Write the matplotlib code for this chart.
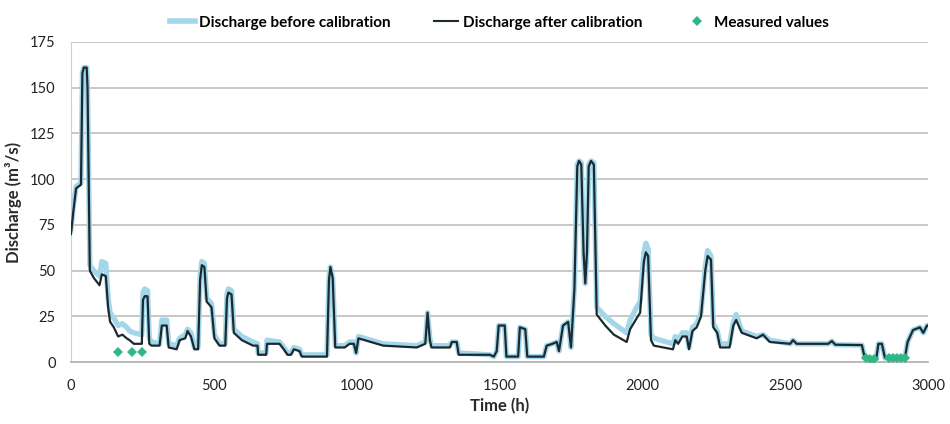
import matplotlib
matplotlib.use("Agg")
import matplotlib.pyplot as plt
from matplotlib.lines import Line2D

plt.rcParams['font.family'] = ['Lato', 'DejaVu Sans']

# hourly discharge breakpoints (h) with simulated values before / after calibration (m3/s)
hours = [0, 8, 18, 35, 40, 45, 55, 58, 66, 80, 100, 108, 122, 130, 137, 150, 165, 180,
         195, 205, 220, 248, 252, 258, 268, 274, 282, 310, 318, 335, 342, 370, 380, 400,
         408, 420, 432, 445, 452, 458, 467, 475, 492, 502, 520, 540, 546, 551, 562, 570,
         598, 637, 653, 655, 683, 686, 730, 745, 758, 770, 780, 800, 808, 896, 903, 908,
         916, 925, 958, 975, 990, 998, 1006, 1050, 1093, 1210, 1240, 1248, 1256, 1262,
         1326, 1333, 1350, 1357, 1466, 1480, 1490, 1497, 1518, 1524, 1565, 1571, 1590,
         1597, 1655, 1665, 1685, 1700, 1708, 1722, 1740, 1750, 1762, 1772, 1778, 1786,
         1794, 1800, 1806, 1812, 1820, 1830, 1840, 1870, 1900, 1945, 1957, 1980, 1992,
         2005, 2012, 2020, 2030, 2040, 2107, 2115, 2125, 2140, 2155, 2163, 2175, 2190,
         2205, 2220, 2228, 2240, 2248, 2262, 2272, 2305, 2318, 2328, 2348, 2400, 2422,
         2446, 2517, 2527, 2540, 2650, 2663, 2675, 2768, 2778, 2800, 2818, 2826, 2838,
         2849, 2860, 2919, 2928, 2947, 2971, 2983, 2996, 3000]

q_after = [70, 82, 95, 97, 158, 161, 161, 150, 50, 46, 42, 48, 47, 30, 22, 19, 14, 15,
           13, 12, 10, 10, 34, 36, 36, 10, 9, 9, 20, 20, 8, 7, 12, 13,
           17, 14, 7, 7, 45, 53, 52, 33, 30, 13, 9, 9, 35, 38, 37, 16,
           12, 9, 9, 4, 4, 10, 10, 7, 4, 4, 7, 6, 3, 3, 45, 52,
           46, 8, 8, 10, 10, 5, 13, 11, 9, 8, 10, 27, 12, 8,
           8, 11, 11, 4, 4, 3, 6, 20, 20, 3, 3, 19, 18,
           3, 3, 9, 10, 11, 6, 20, 22, 8, 40, 107, 110, 108,
           60, 43, 60, 107, 110, 108, 26, 20, 15, 11, 18, 24, 27,
           55, 60, 58, 12, 9, 7, 12, 10, 14, 14, 7, 17, 19,
           25, 50, 58, 56, 19, 16, 8, 8, 20, 23, 16, 13, 15,
           11, 10, 12, 10, 10, 11.5, 9.5, 9.3, 2.5, 1.6, 1.6, 10, 10,
           2.2, 2.7, 2.7, 11, 17.5, 19, 16, 20, 20]

q_before = [72, 85, 96, 98, 158, 161, 161, 150, 53, 50, 47, 55, 54, 35, 27, 24, 20, 21,
            19, 17, 16, 15, 38, 40, 39, 13, 11, 10, 23, 23, 10, 9, 13, 15,
            18, 16, 8, 8, 47, 55, 54, 35, 32, 15, 10, 10, 37, 40, 39, 18,
            14, 11, 10, 5, 5, 12, 11, 8, 5, 5, 8, 7, 4, 4, 46, 52,
            46, 9, 9, 11, 11, 5, 14, 12, 10, 9, 11, 27, 13, 9,
            9, 11, 11, 5, 4, 3, 6, 20, 20, 3, 3, 19, 18,
            3, 3, 9, 10, 11, 6, 20, 22, 8, 42, 108, 110, 109,
            60, 43, 62, 108, 110, 109, 30, 25, 21, 16, 23, 30, 33,
            60, 65, 62, 15, 13, 10, 14, 12, 16, 16, 8, 19, 21,
            27, 52, 61, 58, 21, 17, 10, 10, 22, 26, 17, 14, 15,
            12, 10, 12, 10, 10, 11.5, 9.5, 9.3, 2.5, 1.6, 1.6, 10, 10,
            2.2, 2.7, 2.7, 11, 17.5, 19, 16, 20, 20]

# field measurements
meas_hours = [163, 212, 247, 2782, 2796, 2810, 2862, 2877, 2892, 2906, 2918]
meas_q = [5.6, 5.6, 5.6, 2.0, 1.6, 1.8, 2.2, 2.0, 2.0, 2.2, 2.4]

fig = plt.figure(figsize=(9.5, 4.24), dpi=100)
ax = fig.add_axes([0.0747, 0.146, 0.9023, 0.755])

ax.plot(hours, q_before, color='#a3d6e9', lw=3.8, solid_joinstyle='round',
        solid_capstyle='round', zorder=3)
ax.plot(hours, q_after, color='#1b2a30', lw=1.6, solid_joinstyle='round', zorder=4)
ax.plot(meas_hours, meas_q, linestyle='none', marker='D', ms=5, color='#2fb884',
        markeredgewidth=0, zorder=5)

ax.set_xlim(0, 3000)
ax.set_ylim(0, 175)
ax.set_xticks(range(0, 3001, 500))
ax.set_yticks(range(0, 176, 25))
ax.grid(axis='y', color='#c4c4c4', lw=1.3, zorder=0)
ax.set_axisbelow(True)

for side in ['top', 'right']:
    ax.spines[side].set_visible(False)
ax.spines['left'].set_color('#d0d0d0')
ax.spines['bottom'].set_color('#b8b8b8')
ax.spines['bottom'].set_linewidth(1.3)
ax.tick_params(length=0, labelsize=10.5, colors='#222222')
ax.tick_params(axis='x', pad=12)
ax.tick_params(axis='y', pad=11)

ax.set_xlabel('Time (h)', fontsize=12, fontweight='bold', color='#2a2a2a', labelpad=4)
ax.set_ylabel('Discharge (m³/s)', fontsize=12, fontweight='bold', color='#2a2a2a', labelpad=6)

handles = [
    Line2D([], [], color='#a3d6e9', lw=4),
    Line2D([], [], color='#1b2a30', lw=1.5),
    Line2D([], [], linestyle='none', marker='D', ms=5, color='#2fb884', markeredgewidth=0),
]
labels = ['Discharge before calibration', 'Discharge after calibration', 'Measured values']
ax.legend(handles, labels, loc='lower center', bbox_to_anchor=(0.5, 1.0), ncol=3,
          frameon=False, prop={'weight': 'bold', 'size': 11}, handlelength=1.6,
          handletextpad=0.3, columnspacing=2.8, borderaxespad=0.4)

fig.savefig('out.png', dpi=100)
